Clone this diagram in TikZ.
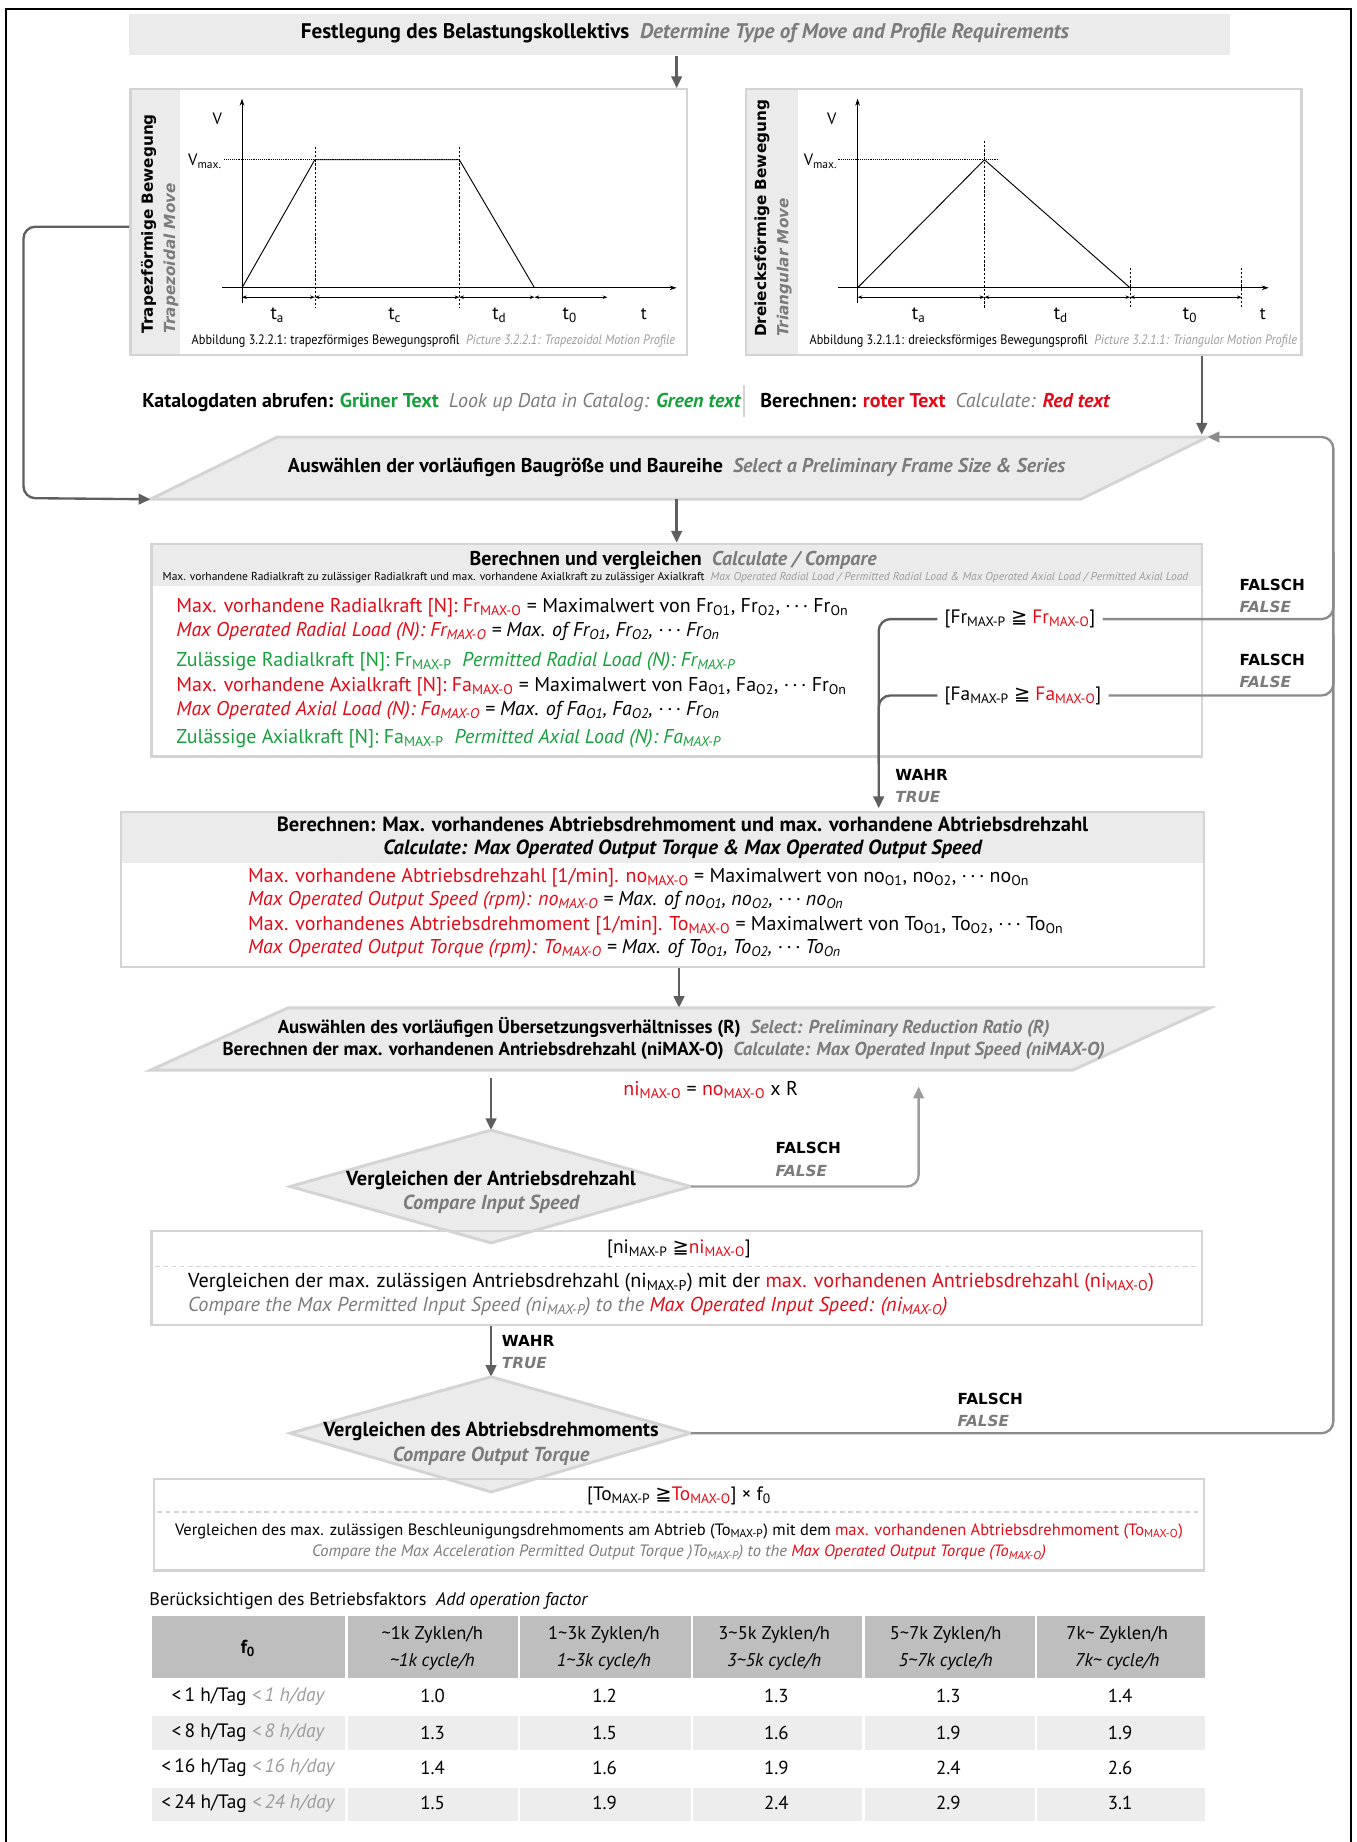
\documentclass[tikz,border=0pt]{standalone}
\usepackage{fontspec}
\setmainfont{PT Sans}
\newfontfamily\cf{PT Sans}[FakeStretch=0.9]
\newfontfamily\vf{DejaVu Sans}
\usetikzlibrary{arrows.meta}
\definecolor{rd}{HTML}{E30A17}
\definecolor{gn}{HTML}{16A03C}
\definecolor{gt}{HTML}{7B7B7B}
\definecolor{gl}{HTML}{9C9C9C}
\definecolor{bx}{HTML}{EBEBEB}
\definecolor{bd}{HTML}{D4D4D4}
\definecolor{ln}{HTML}{5F5F5F}
\definecolor{ln2}{HTML}{8C8C8C}
\definecolor{th}{HTML}{BEBEBE}
\definecolor{rowg}{HTML}{EDEDED}
\newcommand\fs[2]{\fontsize{#1}{#2}\selectfont}
\newcommand\su[1]{\textsubscript{#1}}
\newcommand\gq{{\vf ≧}}
\newcommand\dts{·\,·\,·}
\begin{document}
\begin{tikzpicture}[x=1pt,y=-1pt,
  conn/.style={draw=ln, line width=2pt, -{Triangle[length=10pt,width=9pt]}},
  lnk/.style={draw=ln, line width=2pt},
  conn2/.style={draw=ln2, line width=2pt, -{Triangle[length=10pt,width=9pt]}},
  lnk2/.style={draw=ln2, line width=2pt},
  box/.style={draw=bd, line width=2pt, inner sep=0pt, anchor=north west},
  shp/.style={fill=bx, draw=bd, line width=2.5pt, line join=miter},
  txt/.style={inner sep=0pt, anchor=base west},
  ctr/.style={inner sep=0pt, anchor=base},
  lab/.style={inner sep=0pt, anchor=west, align=left, font=\vf\fs{13}{19}\bfseries},
  ax/.style={line width=0.8pt, -{Stealth[length=6pt,width=4pt]}},
  dimar/.style={line width=0.6pt, {Stealth[length=4pt,width=3pt]}-{Stealth[length=4pt,width=3pt]}},
  vd/.style={line width=0.5pt, dash pattern=on 2pt off 1.5pt},
  dsh/.style={draw=bd, line width=1pt, dash pattern=on 4pt off 3pt},
]
\useasboundingbox (0,0) rectangle (1155,1568);
\draw[line width=1.6pt] (5,1568) -- (5,8) -- (1150,8) -- (1150,1568);

% ---------------- title
\node[fill=bx, inner sep=0pt, anchor=north west, minimum width=937pt, minimum height=35pt] (title) at (110,12) {};
\node[font=\fs{18}{20}\bfseries, inner sep=0pt] (titletxt) at (583,28) {Festlegung des Belastungskollektivs\ \ \textcolor{gt}{\itshape Determine Type of Move and Profile Requirements}};
\coordinate (a1) at (576,75);
\draw[conn] (a1 |- title.south) -- (a1);

% ---------------- left panel
\fill[bx] (110,75) rectangle (153,301);
\node[box, minimum width=474pt, minimum height=226pt] (lp) at (110,75) {};
\node[lab, rotate=90] (lpl) at (136,284) {Trapezförmige Bewegung\\\textcolor{gt}{\itshape Trapezoidal Move}};
\draw[ax] (206,258) -- (206,84);
\draw[ax] (189,245) -- (576,245);
\draw[line width=0.6pt, densely dotted] (191,136) -- (391,136);
\draw[line width=0.8pt] (206,245) -- (268,136) -- (391,136) -- (455,245);
\draw[vd] (268,125) -- (268,262);
\draw[vd] (391,125) -- (391,262);
\draw[dimar] (206,253) -- (268,253);
\draw[dimar] (268,253) -- (391,253);
\draw[dimar] (391,253) -- (455,253);
\draw[dimar] (455,253) -- (517,253);
\node[ctr, font=\fs{16}{18}] (lta) at (236,272) {t\su{a}};
\node[ctr, font=\fs{16}{18}] (ltc) at (336,272) {t\su{c}};
\node[ctr, font=\fs{16}{18}] (ltd) at (425,272) {t\su{d}};
\node[ctr, font=\fs{16}{18}] (lt0) at (485,272) {t\su{0}};
\node[ctr, font=\fs{15}{18}] (ltt) at (548,272) {t};
\node[ctr, font=\fs{14}{16}] (lv) at (185,106) {V};
\node[txt, font=\fs{14}{16}] (lvm) at (160,141) {V\su{max.}};
\node[txt, font=\cf\fs{11.6}{13}] (lcap) at (163,293) {Abbildung 3.2.2.1: trapezförmiges Bewegungsprofil\ \ \textcolor{gl}{\itshape Picture 3.2.2.1: Trapezoidal Motion Profile}};

% ---------------- right panel
\fill[bx] (634,75) rectangle (679,301);
\node[box, minimum width=473pt, minimum height=226pt] (rp) at (634,75) {};
\node[lab, rotate=90] (rpl) at (658,287) {Dreiecksförmige Bewegung\\\textcolor{gt}{\itshape Triangular Move}};
\draw[ax] (730,258) -- (730,84);
\draw[ax] (713,245) -- (1080,245);
\draw[line width=0.6pt, densely dotted] (713,136) -- (850,136);
\draw[line width=0.8pt] (730,245) -- (838,136) -- (962,245);
\draw[vd] (838,120) -- (838,262);
\draw[vd] (962,228) -- (962,262);
\draw[vd] (1057,228) -- (1057,262);
\draw[dimar] (730,253) -- (838,253);
\draw[dimar] (838,253) -- (962,253);
\draw[dimar] (962,253) -- (1057,253);
\node[ctr, font=\fs{16}{18}] (rta) at (782,272) {t\su{a}};
\node[ctr, font=\fs{16}{18}] (rtd) at (903,272) {t\su{d}};
\node[ctr, font=\fs{16}{18}] (rt0) at (1013,272) {t\su{0}};
\node[ctr, font=\fs{15}{18}] (rtt) at (1075,272) {t};
\node[ctr, font=\fs{14}{16}] (rv) at (708,106) {V};
\node[txt, font=\fs{14}{16}] (rvm) at (684,141) {V\su{max.}};
\node[txt, font=\cf\fs{11.6}{13}] (rcap) at (689,293) {Abbildung 3.2.1.1: dreiecksförmiges Bewegungsprofil\ \ \textcolor{gl}{\itshape Picture 3.2.1.1: Triangular Motion Profile}};

% ---------------- legend
\node[txt, font=\fs{17}{20}] (leg1) at (121,347) {\bfseries Katalogdaten abrufen: \textcolor{gn}{Grüner Text}\ \ \textcolor{gt}{\mdseries\itshape Look up Data in Catalog: }\textcolor{gn}{\itshape Green text}};
\draw[draw=bd, line width=1.5pt] (633,328) -- (633,355);
\node[txt, font=\fs{17}{20}] (leg2) at (647,347) {\bfseries Berechnen: \textcolor{rd}{roter Text}\ \ \textcolor{gt}{\mdseries\itshape Calculate: }\textcolor{rd}{\itshape Red text}};

% ---------------- parallelogram 1
\coordinate (p1tl) at (236,372);
\coordinate (p1tr) at (1028,372);
\coordinate (p1br) at (920,425);
\coordinate (p1bl) at (128,425);
\draw[shp] (p1tl) -- (p1tr) -- (p1br) -- (p1bl) -- cycle;
\node[font=\fs{17}{20}\bfseries] (p1) at (576,398) {Auswählen der vorläufigen Baugröße und Baureihe\ \ \textcolor{gt}{\itshape Select a Preliminary Frame Size \& Series}};
\coordinate (a2) at (1023,370);
\draw[conn] (a2 |- rp.south) -- (a2);
\coordinate (ll0) at (110,193);
\coordinate (ll1) at (20,193);
\coordinate (ll2) at (20,424);
\draw[conn, rounded corners=10pt] (ll0) -- (ll1) -- (ll2) -- (p1bl);
\coordinate (a3) at (576,462);
\draw[conn] (a3 |- p1bl) -- (a3);

% ---------------- box 1
\fill[bx] (128,462) rectangle (1022,499);
\node[box, minimum width=894pt, minimum height=181pt] (b1) at (128,462) {};
\node[ctr, font=\fs{17}{20}\bfseries] (b1h) at (573,481) {Berechnen und vergleichen\ \ \textcolor{gt}{\itshape Calculate / Compare}};
\node[ctr, font=\fs{9.8}{11}] (b1s) at (575,494) {Max. vorhandene Radialkraft zu zulässiger Radialkraft und max. vorhandene Axialkraft zu zulässiger Axialkraft\ \ \textcolor{gl}{\itshape Max Operated Radial Load / Permitted Radial Load \& Max Operated Axial Load / Permitted Axial Load}};
\begin{scope}[every node/.append style={txt, font=\fs{17}{20}}]
\node (r1) at (150,521) {\textcolor{rd}{Max. vorhandene Radialkraft [N]: Fr\su{MAX-O}} = Maximalwert von Fr\su{O1}, Fr\su{O2}, \dts\ Fr\su{On}};
\node (r2) at (150,542) {\itshape\textcolor{rd}{Max Operated Radial Load (N): Fr\su{MAX-O}} = Max. of Fr\su{O1}, Fr\su{O2}, \dts\ Fr\su{On}};
\node (r3) at (150,567) {\textcolor{gn}{Zulässige Radialkraft [N]: Fr\su{MAX-P}\ \ \itshape Permitted Radial Load (N): Fr\su{MAX-P}}};
\node (r4) at (150,589) {\textcolor{rd}{Max. vorhandene Axialkraft [N]: Fa\su{MAX-O}} = Maximalwert von Fa\su{O1}, Fa\su{O2}, \dts\ Fr\su{On}};
\node (r5) at (150,609) {\itshape\textcolor{rd}{Max Operated Axial Load (N): Fa\su{MAX-O}} = Max. of Fa\su{O1}, Fa\su{O2}, \dts\ Fr\su{On}};
\node (r6) at (150,633) {\textcolor{gn}{Zulässige Axialkraft [N]: Fa\su{MAX-P}\ \ \itshape Permitted Axial Load (N): Fa\su{MAX-P}}};
\end{scope}
\node[inner sep=6pt, anchor=west, font=\fs{16.5}{18}] (c1) at (798,527) {[Fr\su{MAX-P} \gq\ \textcolor{rd}{Fr\su{MAX-O}}]};
\node[inner sep=6pt, anchor=west, font=\fs{16.5}{18}] (c2) at (798,592) {[Fa\su{MAX-P} \gq\ \textcolor{rd}{Fa\su{MAX-O}}]};
\coordinate (t2) at (748,688);
\coordinate (j2) at (748,650);
\draw[conn, rounded corners=10pt] (c1.west) -| (t2);
\draw[lnk, rounded corners=10pt] (c2.west) -| (j2);
\coordinate (rv1) at (1135,470);
\coordinate (rv2) at (1135,540);
\draw[lnk2, rounded corners=10pt] (c1.east) -| (rv1);
\draw[lnk2, rounded corners=10pt] (c2.east) -| (rv2);
\node[lab] (f1) at (1055,507) {FALSCH\\\textcolor{gt}{\itshape FALSE}};
\node[lab] (f2) at (1055,571) {FALSCH\\\textcolor{gt}{\itshape FALSE}};
\node[lab] (w1) at (762,669) {WAHR\\\textcolor{gt}{\itshape TRUE}};

% ---------------- box 2
\fill[bx] (102,690) rectangle (1024,735);
\node[box, minimum width=922pt, minimum height=132pt] (b2) at (102,690) {};
\node[font=\fs{17.5}{20}\bfseries, align=center, inner sep=0pt] (b2h) at (581,713) {Berechnen: Max. vorhandenes Abtriebsdrehmoment und max. vorhandene Abtriebsdrehzahl\\\itshape Calculate: Max Operated Output Torque \& Max Operated Output Speed};
\begin{scope}[every node/.append style={txt, font=\fs{17}{20}}]
\node (s1) at (211,751) {\textcolor{rd}{Max. vorhandene Abtriebsdrehzahl [1/min]. no\su{MAX-O}} = Maximalwert von no\su{O1}, no\su{O2}, \dts\ no\su{On}};
\node (s2) at (211,771) {\itshape\textcolor{rd}{Max Operated Output Speed (rpm): no\su{MAX-O}} = Max. of no\su{O1}, no\su{O2}, \dts\ no\su{On}};
\node (s3) at (211,792) {\textcolor{rd}{Max. vorhandenes Abtriebsdrehmoment [1/min]. To\su{MAX-O}} = Maximalwert von To\su{O1}, To\su{O2}, \dts\ To\su{On}};
\node (s4) at (211,812) {\itshape\textcolor{rd}{Max Operated Output Torque (rpm): To\su{MAX-O}} = Max. of To\su{O1}, To\su{O2}, \dts\ To\su{On}};
\end{scope}
\coordinate (a4) at (578,858);
\draw[conn] (a4 |- b2.south) -- (a4);

% ---------------- parallelogram 2
\coordinate (p2tl) at (245,858);
\coordinate (p2tr) at (1030,858);
\coordinate (p2br) at (913,911);
\coordinate (p2bl) at (128,911);
\draw[shp] (p2tl) -- (p2tr) -- (p2br) -- (p2bl) -- cycle;
\node[font=\fs{16}{18.5}\bfseries, align=center, inner sep=0pt] (p2) at (565,884) {Auswählen des vorläufigen Übersetzungsverhältnisses (R)\ \ \textcolor{gt}{\itshape Select: Preliminary Reduction Ratio (R)}\\Berechnen der max. vorhandenen Antriebsdrehzahl (niMAX-O)\ \ \textcolor{gt}{\itshape Calculate: Max Operated Input Speed (niMAX-O)}};
\node[font=\fs{17}{20}] (fm) at (605,928) {\textcolor{rd}{ni\su{MAX-O}} = \textcolor{rd}{no\su{MAX-O}} x R};

% ---------------- diamond 1
\coordinate (d1t) at (418,962);
\coordinate (d1r) at (588,1010);
\coordinate (d1b) at (418,1058);
\coordinate (d1l) at (247,1010);
\coordinate (a5) at (418,918);
\draw[conn] (a5) -- (d1t);
\draw[shp] (d1t) -- (d1r) -- (d1b) -- (d1l) -- cycle;
\node[font=\fs{17.3}{20.5}\bfseries, align=center, inner sep=0pt] (d1) at (418,1015) {Vergleichen der Antriebsdrehzahl\\\textcolor{gt}{\itshape Compare Input Speed}};
\coordinate (nit) at (782,925);
\draw[conn2, draw=gl, rounded corners=10pt] (d1r) -| (nit);
\node[lab] (f3) at (660,987) {FALSCH\\\textcolor{gt}{\itshape FALSE}};

% ---------------- box 3
\node[box, minimum width=894pt, minimum height=80pt] (b3) at (128,1047) {};
\node[ctr, font=\fs{16.5}{18}] (b3c) at (578,1067) {[ni\su{MAX-P} \gq\textcolor{rd}{ni\su{MAX-O}}]};
\draw[dsh] (132,1078) -- (1018,1078);
\node[txt, font=\fs{17.2}{20}] (b3l1) at (160,1096) {Vergleichen der max. zulässigen Antriebsdrehzahl (ni\su{MAX-P}) mit der \textcolor{rd}{max. vorhandenen Antriebsdrehzahl (ni\su{MAX-O})}};
\node[txt, font=\fs{17.2}{20}\itshape] (b3l2) at (160,1116) {\textcolor{gt}{Compare the Max Permitted Input Speed (ni\su{MAX-P}) to the }\textcolor{rd}{Max Operated Input Speed: (ni\su{MAX-O})}};
\coordinate (d2t) at (418,1172);
\draw[conn] (d2t |- b3.south) -- (d2t);
\node[lab] (w2) at (427,1151) {WAHR\\\textcolor{gt}{\itshape TRUE}};

% ---------------- diamond 2
\coordinate (d2r) at (588,1220);
\coordinate (d2b) at (418,1270);
\coordinate (d2l) at (247,1220);
\draw[shp] (d2t) -- (d2r) -- (d2b) -- (d2l) -- cycle;
\node[font=\fs{17.3}{22}\bfseries, align=center, inner sep=0pt] (d2) at (418,1229) {Vergleichen des Abtriebsdrehmoments\\\textcolor{gt}{\itshape Compare Output Torque}};
\coordinate (rtc) at (1135,372);
\draw[conn2, rounded corners=10pt] (d2r) -| (rtc) -- (p1tr);
\node[lab] (f4) at (815,1200) {FALSCH\\\textcolor{gt}{\itshape FALSE}};

% ---------------- box 4
\node[box, minimum width=894pt, minimum height=78pt] (b4) at (130,1258) {};
\node[ctr, font=\fs{16.5}{18}] (b4c) at (578,1277) {[To\su{MAX-P} \gq\textcolor{rd}{To\su{MAX-O}}] × f\su{0}};
\draw[dsh] (134,1287) -- (1020,1287);
\node[ctr, font=\fs{14}{16}] (b4l1) at (578,1307) {Vergleichen des max. zulässigen Beschleunigungsdrehmoments am Abtrieb (To\su{MAX-P}) mit dem \textcolor{rd}{max. vorhandenen Abtriebsdrehmoment (To\su{MAX-O})}};
\node[ctr, font=\fs{14}{16}\itshape] (b4l2) at (578,1325) {\textcolor{gt}{Compare the Max Acceleration Permitted Output Torque )To\su{MAX-P}) to the }\textcolor{rd}{Max Operated Output Torque (To\su{MAX-O})}};

% ---------------- table
\node[txt, font=\fs{15.5}{18}] (tcap) at (127,1367) {Berücksichtigen des Betriebsfaktors\ \ \textit{Add operation factor}};
\foreach \xa/\xb in {129/294, 296/441, 443/588, 590/734, 736/881, 883/1026} {
  \fill[th] (\xa,1376) rectangle (\xb,1428);
  \fill[rowg] (\xa,1461) rectangle (\xb,1490);
  \fill[rowg] (\xa,1522) rectangle (\xb,1550);
}
\node[font=\fs{16}{18}\bfseries] (h0) at (211,1403) {f\su{0}};
\foreach \cx/\a/\b [count=\c] in {368/\textasciitilde1k/\textasciitilde1k, 514/1\textasciitilde3k/1\textasciitilde3k, 659/3\textasciitilde5k/3\textasciitilde5k, 805/5\textasciitilde7k/5\textasciitilde7k, 951/7k\textasciitilde/7k\textasciitilde} {
  \node[font=\fs{15.7}{23}, align=center, inner sep=0pt] (h\c) at (\cx,1403) {\a{} Zyklen/h\\\itshape \b{} cycle/h};
}
\foreach \yy/\hh/\vals [count=\r] in {1444/1/{1.0,1.2,1.3,1.3,1.4}, 1475/8/{1.3,1.5,1.6,1.9,1.9}, 1505/16/{1.4,1.6,1.9,2.4,2.6}, 1535/24/{1.5,1.9,2.4,2.9,3.1}} {
  \node[font=\fs{16.5}{18}] (rl\r) at (211,\yy) {<\,\hh\ h/Tag \textcolor{gl}{\itshape <\,\hh\ h/day}};
  \foreach \v [count=\c] in \vals {
    \pgfmathsetmacro{\cx}{222+146.3*\c}
    \node[font=\fs{16}{18}] (v\r-\c) at (\cx,\yy) {\v};
  }
}
\end{tikzpicture}
\end{document}
